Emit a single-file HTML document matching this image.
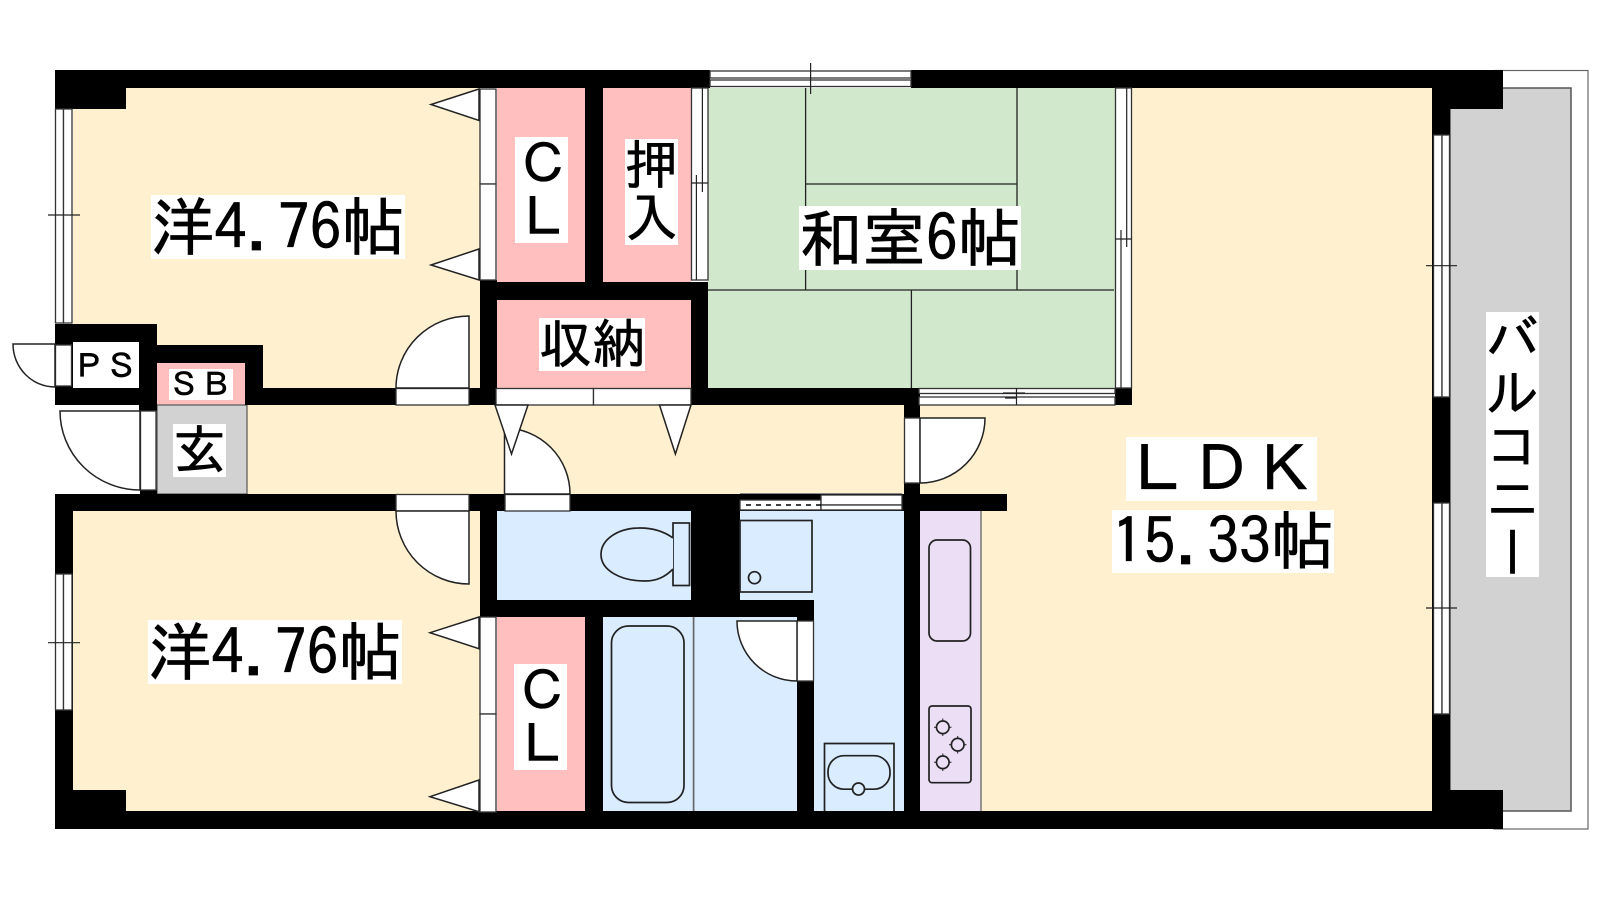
<!DOCTYPE html>
<html><head><meta charset="utf-8"><style>
html,body{margin:0;padding:0;background:#fff;width:1600px;height:900px;overflow:hidden}
svg{position:absolute;left:0;top:0}
text{font-family:"IPAGothic","Noto Sans CJK JP",sans-serif;fill:#000;stroke:#000;stroke-width:.7px}
.v{position:absolute;left:1486px;top:312px;width:53px;height:265px;background:#fff;writing-mode:vertical-rl;font:53px/53px "IPAGothic","Noto Sans CJK JP",sans-serif;color:#000;-webkit-text-stroke:.6px #000}
</style></head><body>
<svg width="1600" height="900" viewBox="0 0 1600 900">
<!-- balcony -->
<rect x="1494" y="70.5" width="94" height="758.5" fill="#fff" stroke="#666" stroke-width="1.2"/>
<rect x="1450" y="88" width="121" height="723" fill="#d2d2d2" stroke="#555" stroke-width="1.5"/>
<!-- floors -->
<g fill="#fff0cf">
<rect x="73" y="88" width="407" height="300"/>
<rect x="157" y="405" width="750" height="89"/>
<rect x="73" y="511" width="407" height="300"/>
<rect x="1132" y="88" width="300" height="723"/>
<rect x="920" y="405" width="512" height="406"/>
</g>
<rect x="708" y="88" width="407" height="300" fill="#d2e8cc"/>
<g fill="#ffbfbf">
<rect x="497" y="88" width="88" height="194"/>
<rect x="603" y="88" width="88" height="194"/>
<rect x="497" y="300" width="194" height="88"/>
<rect x="497" y="617" width="88" height="194"/>
<rect x="157" y="363" width="88" height="42"/>
</g>
<rect x="157" y="405" width="90" height="89" fill="#d2d2d2" stroke="#555" stroke-width="1.2"/>
<g fill="#daecff">
<rect x="497" y="511" width="194" height="89"/>
<rect x="740" y="511" width="164" height="300"/>
<rect x="603" y="617" width="194" height="194"/>
</g>
<rect x="920" y="511" width="61" height="300" fill="#ecdff5"/>
<line x1="981" y1="511" x2="981" y2="811" stroke="#777" stroke-width="1.5"/>
<rect x="73" y="342" width="66" height="46" fill="#fff"/>
<!-- tatami lines -->
<g stroke="#222" stroke-width="1.3" fill="none">
<path d="M805.6 88V290M805.6 184H1017M1017 88V290M708 290H1114M911.4 290V388"/>
</g>
<!-- walls -->
<g fill="#000">
<rect x="55" y="70" width="655" height="18"/>
<rect x="911" y="70" width="592" height="18"/>
<rect x="55" y="70" width="71" height="39"/>
<rect x="55" y="324" width="102" height="18"/>
<rect x="139" y="324" width="18" height="87"/>
<rect x="55" y="342" width="18" height="63"/>
<rect x="55" y="388" width="102" height="17"/>
<rect x="157" y="345" width="106" height="18"/>
<rect x="245" y="345" width="18" height="60"/>
<rect x="245" y="388" width="235" height="17"/>
<rect x="480" y="280" width="17" height="125"/>
<rect x="585" y="88" width="18" height="194"/>
<rect x="480" y="282" width="228" height="18"/>
<rect x="691" y="282" width="17" height="123"/>
<rect x="691" y="388" width="228" height="17"/>
<rect x="904" y="388" width="16" height="30"/>
<rect x="904" y="483" width="16" height="346"/>
<rect x="55" y="494" width="952" height="17"/>
<rect x="140" y="490" width="17" height="4"/>
<rect x="55" y="494" width="18" height="335"/>
<rect x="55" y="790" width="71" height="39"/>
<rect x="55" y="811" width="1448" height="18"/>
<rect x="480" y="494" width="17" height="123"/>
<rect x="480" y="600" width="334" height="17"/>
<rect x="691" y="494" width="49" height="106"/>
<rect x="585" y="617" width="18" height="194"/>
<rect x="797" y="617" width="17" height="194"/>
<rect x="1432" y="70" width="18" height="759"/>
<rect x="1432" y="70" width="71" height="39"/>
<rect x="1432" y="790" width="71" height="39"/>
<rect x="1115" y="388" width="17" height="17"/>
</g>
<!-- white openings -->
<g fill="#fff" stroke="#333" stroke-width="1.3">
<rect x="55.5" y="109" width="8" height="214"/><rect x="63.5" y="109" width="8.5" height="214"/>
<rect x="55.5" y="574" width="8" height="136"/><rect x="63.5" y="574" width="8.5" height="136"/>
<rect x="55.5" y="345" width="16" height="41"/>
<rect x="396" y="388.5" width="73" height="16.5"/>
<rect x="396" y="494.5" width="73" height="16.5"/>
<rect x="505" y="494.5" width="65" height="16.5"/>
<rect x="480" y="89" width="16" height="95"/><rect x="480" y="184" width="16" height="96"/>
<rect x="480" y="617" width="16" height="97"/><rect x="480" y="714" width="16" height="98"/>
<rect x="496" y="388.5" width="97.5" height="16.5"/><rect x="593.5" y="388.5" width="97.5" height="16.5"/>
<rect x="140.5" y="411" width="15.5" height="79"/>
<rect x="904.5" y="418" width="15.5" height="65"/>
<rect x="797" y="621" width="16.5" height="60"/>
<rect x="1433.5" y="135" width="8.5" height="262"/><rect x="1442" y="135" width="7.5" height="262"/>
<rect x="1433.5" y="503" width="8.5" height="211"/><rect x="1442" y="503" width="7.5" height="211"/>
<rect x="710" y="71" width="201" height="7"/><rect x="710" y="80" width="201" height="6.5"/>
<rect x="691.5" y="88" width="16.5" height="192"/>
<rect x="1115.5" y="88" width="16" height="300"/>
<rect x="919" y="388.5" width="196" height="5"/><rect x="919" y="397" width="196" height="8"/>
<rect x="740" y="500" width="81" height="10"/>
<rect x="821" y="495" width="81" height="10"/><rect x="821" y="505" width="81" height="5"/>
</g>
<path d="M702.4 88V183M696.4 183V280M1126.7 88V239M1121 239V388" stroke="#222" stroke-width="1.2" fill="none"/>
<path d="M746 505H821" stroke="#000" stroke-width="1.5" stroke-dasharray="5 5" fill="none"/>
<path d="M740 493.5H902" stroke="#888" stroke-width="1" fill="none"/>
<!-- ticks -->
<g stroke="#222" stroke-width="1.2" fill="none">
<path d="M48 215H80M48 642.7H80"/>
<path d="M810.6 63V94"/>
<path d="M691 183H708M696.4 175V183M702.4 183V192"/>
<path d="M1115 239H1132M1121 230V239M1126.7 239V247"/>
<path d="M1016.5 388V405M1003 393H1025M1016 398H1005"/>
<path d="M1426 265.7H1457M1426 608H1457"/>
</g>
<!-- door leaves -->
<g fill="#fff" stroke="#222" stroke-width="1.5">
<path d="M469 388V316A73 72 0 0 0 396 388Z"/>
<path d="M469 511V584A73 73 0 0 1 396 511Z"/>
<path d="M140 411H60A80 79 0 0 0 140 490Z"/>
<path d="M55 344H13A42 43 0 0 0 55 387Z"/>
<path d="M504.5 494V428A66 66 0 0 1 570 494Z"/>
<path d="M920 418H985A65 65 0 0 1 920 483Z"/>
<path d="M797 621H737A60 60 0 0 0 797 681Z"/>
</g>
<!-- closet triangles -->
<g fill="#fff" stroke="#222" stroke-width="1.5">
<path d="M479 89L431 104.5L479 120.5Z"/>
<path d="M479 249L431 265L479 280Z"/>
<path d="M479 617L430 632.7L479 648.7Z"/>
<path d="M479 780L430 796.7L479 811.7Z"/>
<path d="M495 405L511.5 454L528 405Z"/>
<path d="M659.5 405L675.4 454L691 405Z"/>
</g>
<!-- fixtures -->
<g fill="none" stroke="#222" stroke-width="1.7">
<rect x="673" y="523" width="16.5" height="62.5"/>
<path d="M673 538C662 530 650 528 640 528C617 528 601 540 601 554.5C601 570 620 581 645 581C658 581 666 576 673 569" fill="#daecff"/>
<rect x="740" y="520.5" width="72" height="71.5"/>
<circle cx="754.5" cy="577.7" r="6"/>
<rect x="611.5" y="626" width="72.5" height="176.5" rx="17"/>
<line x1="693.6" y1="617" x2="693.6" y2="811" stroke="#666"/>
<path d="M824.5 811V743.5H894V811"/>
<rect x="828" y="755.7" width="62" height="33.5" rx="16"/>
<circle cx="858.5" cy="789" r="6" fill="#daecff"/>
<rect x="929" y="540" width="41.5" height="101" rx="8"/>
<rect x="929" y="706" width="42" height="76.7" rx="3"/>
<circle cx="942.8" cy="727.3" r="6.3"/>
<circle cx="957.7" cy="744.7" r="6.3"/>
<circle cx="942.8" cy="762.3" r="6.3"/>
<path d="M934 727.3H951.6M942.8 718.5V736M949 744.7H966.5M957.7 736V753.5M934 762.3H951.6M942.8 753.5V771" stroke-width="1" stroke-dasharray="2.5 12.5"/>
</g>
<!-- label backs -->
<g fill="#fff">
<rect x="151" y="195" width="254" height="64"/>
<rect x="148" y="620" width="254" height="64"/>
<rect x="799" y="206" width="222" height="64"/>
<rect x="539" y="318" width="106" height="53"/>
<rect x="515" y="137" width="53" height="106"/>
<rect x="625" y="139" width="53" height="106"/>
<rect x="514" y="664" width="53" height="106"/>
<rect x="173" y="424" width="53" height="53"/>
<rect x="169" y="369" width="64" height="31"/>
<rect x="1126" y="437" width="191" height="64"/>
<rect x="1112" y="510" width="222" height="63"/>
</g>
<text x="151" y="250" font-size="63.5">洋4.76帖</text>
<text x="148" y="675" font-size="63.5">洋4.76帖</text>
<text x="799" y="261" font-size="63.5">和室6帖</text>
<text x="539" y="363" font-size="53">収納</text>
<text x="517" y="183" font-size="53">Ｃ</text>
<text x="517" y="236" font-size="53">Ｌ</text>
<text x="625" y="184" font-size="53">押</text>
<text x="625" y="237" font-size="53">入</text>
<text x="516" y="710" font-size="53">Ｃ</text>
<text x="516" y="763" font-size="53">Ｌ</text>
<text x="173" y="469" font-size="53">玄</text>
<text x="72" y="378" font-size="33">ＰＳ</text>
<text x="168" y="396" font-size="32">ＳＢ</text>
<text x="1126" y="492" font-size="63.5">ＬＤＫ</text>
<text x="1112" y="564" font-size="63.5">15.33帖</text>
</svg>
<div class="v">バルコニー</div>
</body></html>
